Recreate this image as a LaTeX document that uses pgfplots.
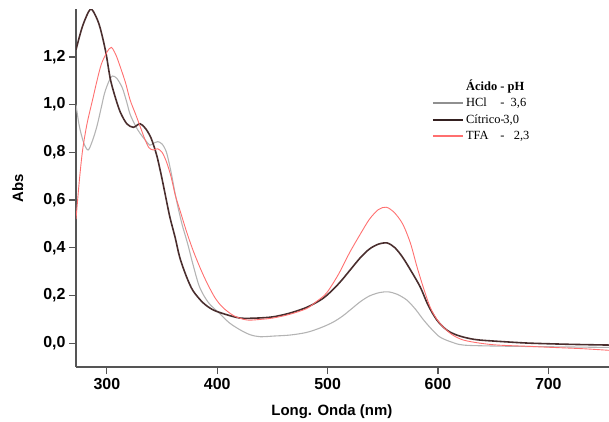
\documentclass[border=0pt]{standalone}
\usepackage{fontspec}
\setmainfont{Liberation Sans}
\newfontfamily\legfont{Liberation Serif}
\usepackage{pgfplots}
\pgfplotsset{compat=1.18}
\definecolor{cgray}{HTML}{B4B4B4}
\definecolor{cdark}{HTML}{4A2E2E}
\definecolor{cred}{HTML}{FF6F6F}
\definecolor{caxis}{HTML}{555555}
\begin{document}
\begin{tikzpicture}
\useasboundingbox (0bp,0bp) rectangle (609bp,422bp);
\begin{axis}[
  at={(76bp,55bp)}, anchor=south west,
  scale only axis, width=533bp, height=357.75bp,
  xmin=272, xmax=755, ymin=-0.1, ymax=1.4,
  separate axis lines,
  every outer x axis line/.append style={draw=none},
  every outer y axis line/.append style={draw=none},
  axis x line*=bottom, axis y line*=left,
  x axis line style={draw=caxis, line width=1.3pt, -},
  y axis line style={draw=caxis, line width=1.3pt, -},
  xtick={300,400,500,600,700},
  ytick={0,0.2,0.4,0.6,0.8,1.0,1.2},
  xtick pos=bottom, ytick pos=left,
  xtick align=outside, ytick align=outside, major tick length=7bp,
  major tick style={draw=caxis, line width=1.2pt},
  /pgf/number format/assume math mode=true,
  yticklabel style={/pgf/number format/fixed, /pgf/number format/fixed zerofill, /pgf/number format/precision=1, /pgf/number format/use comma},
  xticklabel style={/pgf/number format/fixed, /pgf/number format/precision=0, /pgf/number format/1000 sep={}, yshift=-1bp},
  ticklabel style={font=\fontsize{16}{16}\selectfont\bfseries},
  clip mode=individual,
  legend cell align=left,
  legend style={draw=none, fill=none, at={(axis description cs:0.667,0.81)}, anchor=north west,
    font=\legfont\fontsize{12.5}{12.5}\selectfont, row sep=2.5bp, inner sep=0pt,
    /tikz/every even column/.append style={column sep=1bp}},
  legend image code/.code={\draw[#1,line width=2.4pt] (0bp,0bp) -- (30bp,0bp);},
]
\addlegendimage{empty legend}
\addlegendentry{\textbf{Ácido - pH}}
\addlegendimage{draw=cgray!80!black}
\addlegendentry{\makebox[2.75em][l]{HCl}-\ \ 3,6}
\addlegendimage{draw=cdark!70!black}
\addlegendentry{\makebox[2.75em][l]{Cítrico-}\ 3,0}
\addlegendimage{draw=cred}
\addlegendentry{\makebox[2.75em][l]{TFA}-\ \ \ 2,3}

\addplot[cgray, line width=1.1pt, smooth, forget plot] coordinates {
(272,1.0) (275,0.91) (279,0.84) (283,0.81) (287,0.85) (291,0.91) (295,0.99) (298,1.05)
(302,1.10) (305,1.12) (309,1.11) (314,1.07) (318,1.01) (321,0.96) (326,0.91) (330,0.88)
(335,0.85) (339,0.83) (343,0.84) (346,0.845) (350,0.835) (354,0.80) (358,0.72) (363,0.60)
(368,0.50) (373,0.42) (378,0.33) (384,0.235) (392,0.17) (402,0.125) (411,0.085) (421,0.055)
(430,0.035) (439,0.027) (452,0.03) (466,0.034) (481,0.045) (494,0.065) (505,0.088) (514,0.115)
(522,0.145) (530,0.175) (538,0.198) (547,0.212) (555,0.215) (563,0.205) (572,0.18) (580,0.14) (587,0.097)
(595,0.055) (602,0.025) (612,0.005) (623,-0.008) (650,-0.012) (700,-0.015) (755,-0.018)
};

\addplot[cdark, line width=1.6pt, smooth, forget plot] coordinates {
(272,1.23) (278,1.33) (285,1.40) (290,1.37) (294,1.32) (299,1.22) (303,1.11) (307,1.04)
(312,0.97) (318,0.92) (324,0.905) (330,0.92) (335,0.90) (340,0.86) (345,0.79) (349,0.71)
(353,0.62) (357,0.53) (362,0.44) (366,0.36) (372,0.28) (378,0.22) (387,0.17) (396,0.14)
(408,0.12) (421,0.105) (435,0.105) (450,0.11) (465,0.125) (481,0.15) (495,0.185) (505,0.225)
(513,0.265) (521,0.31) (530,0.36) (538,0.395) (546,0.415) (554,0.42) (561,0.40) (568,0.36)
(576,0.30) (584,0.235) (591,0.16) (599,0.097) (608,0.055) (617,0.034) (628,0.02) (638,0.013)
(660,0.006) (683,0.0) (720,-0.005) (755,-0.008)
};

\addplot[cred, line width=0.9pt, smooth, forget plot] coordinates {
(272,0.52) (275,0.68) (278,0.81) (282,0.92) (287,1.02) (291,1.10) (295,1.17) (300,1.22)
(304,1.24) (308,1.21) (312,1.16) (317,1.09) (321,1.02) (326,0.96) (330,0.91) (334,0.86)
(338,0.82) (342,0.81) (346,0.815) (350,0.80) (354,0.76) (358,0.70) (362,0.62) (366,0.56)
(372,0.47) (378,0.39) (385,0.31) (391,0.25) (398,0.19) (405,0.15) (415,0.115) (427,0.097)
(440,0.10) (450,0.105) (465,0.12) (481,0.145) (490,0.175) (499,0.21) (510,0.29) (520,0.38)
(530,0.46) (538,0.52) (546,0.56) (553,0.57) (560,0.55) (568,0.50) (575,0.42) (581,0.32)
(587,0.23) (593,0.15) (599,0.10) (605,0.067) (613,0.035) (623,0.013) (638,0.0) (654,-0.008)
(680,-0.013) (699,-0.017) (730,-0.023) (755,-0.03)
};

\node[font=\fontsize{15}{15}\selectfont\bfseries] at (axis description cs:0.48,-0.126) {Long. Onda (nm)};
\node[font=\fontsize{15}{15}\selectfont\bfseries, rotate=90] at (axis description cs:-0.109,0.5) {Abs};
\end{axis}
\end{tikzpicture}
\end{document}
